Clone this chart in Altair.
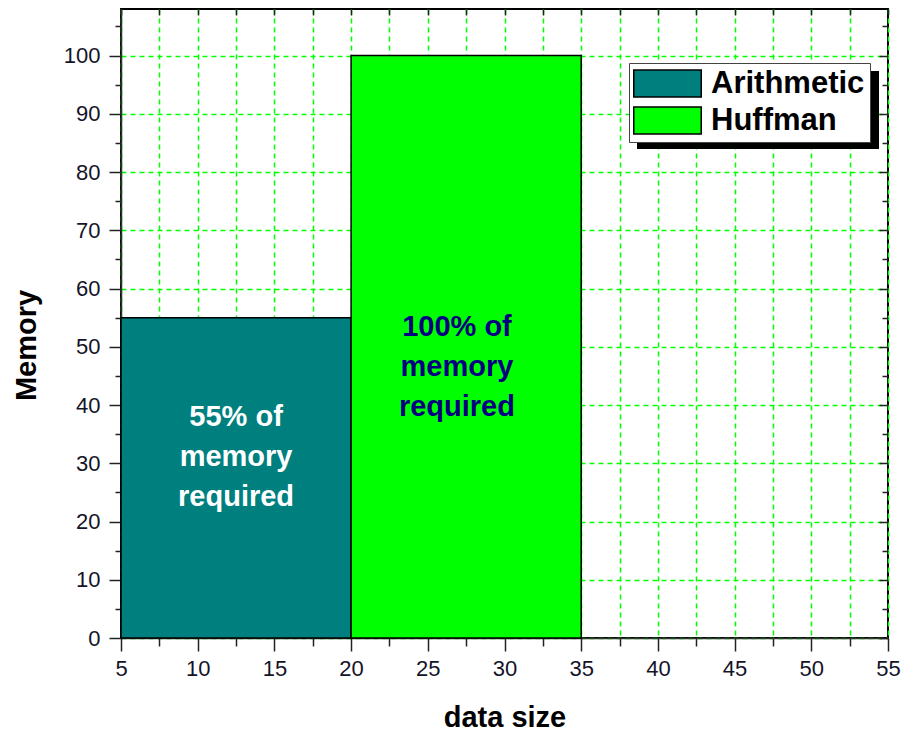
import altair as alt
import pandas as pd

# Bar data: each method spans a data-size interval and needs a memory share
methods = ["Arithmetic", "Huffman"]
size_start = [5, 20]
size_end = [20, 35]
memory = [55, 100]
bar_colors = ["#007F7F", "#00FF00"]

# Annotations written inside the bars (position of the first line)
note_text = ["55% of\nmemory\nrequired", "100% of\nmemory\nrequired"]
note_x = [12.5, 26.9]
note_y = [37.9, 53.4]
note_colors = ["white", "#000080"]

# Tick positions
x_major = [5, 10, 15, 20, 25, 30, 35, 40, 45, 50, 55]
x_minor = [7.5, 12.5, 17.5, 22.5, 27.5, 32.5, 37.5, 42.5, 47.5, 52.5]
x_all = sorted(x_major + x_minor)
y_major = [0, 10, 20, 30, 40, 50, 60, 70, 80, 90, 100]
y_minor = [5, 15, 25, 35, 45, 55, 65, 75, 85, 95, 105]

W, H = 767, 629
FONT = "Liberation Sans"

bars_df = pd.DataFrame({
    "method": methods,
    "start": size_start,
    "end": size_end,
    "memory": memory,
    "base": [0] * len(methods),
})

xs = alt.Scale(domain=[5, 55], nice=False, zero=False)
ys = alt.Scale(domain=[0, 108], nice=False, zero=False)

tick_style = dict(
    labelFont=FONT, labelFontSize=22, labelColor="#141428", labelFlush=False,
    tickColor="#222222", tickWidth=1.5,
    domainColor="#333333", domainWidth=1.5,
    gridColor="#00FF00", gridDash=[5, 4], gridWidth=1.5, gridOpacity=1,
)
title_style = dict(
    titleFont=FONT, titleFontSize=29, titleFontWeight="bold", titleColor="black",
)


def ghost(x_axis, y_axis):
    """Invisible layer that only contributes an extra pair of axes."""
    return alt.Chart(bars_df).mark_point(opacity=0).encode(
        x=alt.X("start:Q", scale=xs, axis=x_axis),
        y=alt.Y("memory:Q", scale=ys, axis=y_axis),
    )


def plain_axis(**kw):
    return alt.Axis(labels=False, title=None, domain=False, **tick_style, **kw)


# minor ticks on bottom/left plus the minor vertical grid
minor_layer = ghost(
    plain_axis(orient="bottom", values=x_minor, tickSize=8, grid=True),
    plain_axis(orient="left", values=y_minor, tickSize=6, grid=False),
)

# inward ticks along the top and right edges
top_right_major = ghost(
    plain_axis(orient="bottom", offset=-H, values=x_all, tickSize=6, grid=False),
    plain_axis(orient="left", offset=-W, values=y_major, tickSize=9, grid=False),
)
right_minor = ghost(
    None,
    plain_axis(orient="left", offset=-W, values=y_minor, tickSize=6, grid=False),
)

bars = alt.Chart(bars_df).mark_rect(stroke="black", strokeWidth=1.5).encode(
    x=alt.X("start:Q", scale=xs,
            axis=alt.Axis(orient="bottom", values=x_major, tickSize=13, labelPadding=7,
                          grid=True, title="data size", titlePadding=24,
                          **tick_style, **title_style)),
    x2="end:Q",
    y=alt.Y("memory:Q", scale=ys,
            axis=alt.Axis(orient="left", values=y_major, tickSize=12, labelPadding=9,
                          grid=True, title="Memory", titlePadding=22, titleY=336,
                          **tick_style, **title_style)),
    y2="base:Q",
    color=alt.Color(
        "method:N",
        scale=alt.Scale(domain=methods, range=bar_colors),
        legend=alt.Legend(
            orient="none", legendX=508, legendY=54, title=None,
            fillColor="white", strokeColor="#444444", padding=5,
            symbolType="M-2.5,-1H2.5V1H-2.5Z", symbolSize=729, symbolOffset=18,
            symbolStrokeColor="black", symbolStrokeWidth=1.5, symbolOpacity=1,
            labelFont=FONT, labelFontSize=31, labelFontWeight="bold",
            labelColor="black", labelOffset=28, rowPadding=4,
        ),
    ),
)

notes = []
for txt, nx, ny, col in zip(note_text, note_x, note_y, note_colors):
    df = pd.DataFrame({"note": [txt], "nx": [nx], "ny": [ny]})
    notes.append(
        alt.Chart(df).mark_text(
            font=FONT, fontSize=29, fontWeight="bold", color=col,
            lineBreak="\n", lineHeight=40, align="center", baseline="middle",
        ).encode(
            x=alt.X("nx:Q", scale=xs, axis=None),
            y=alt.Y("ny:Q", scale=ys, axis=None),
            text="note:N",
        )
    )

# drop shadow behind the legend box
shadow = alt.Chart(pd.DataFrame({"k": [0]})).mark_rect(color="black").encode(
    x=alt.value(516), x2=alt.value(758), y=alt.value(62), y2=alt.value(140)
)

chart = alt.layer(
    minor_layer, top_right_major, right_minor, bars, *notes, shadow
).resolve_axis(
    x="independent", y="independent"
).properties(
    width=W, height=H,
    autosize=alt.AutoSizeParams(type="none"),
    padding={"left": 121, "top": 9, "right": 16, "bottom": 95},
    background="white",
).configure_view(
    stroke="black", strokeWidth=2
)

chart.save("out.html", embed_options={"renderer": "svg", "actions": False})
